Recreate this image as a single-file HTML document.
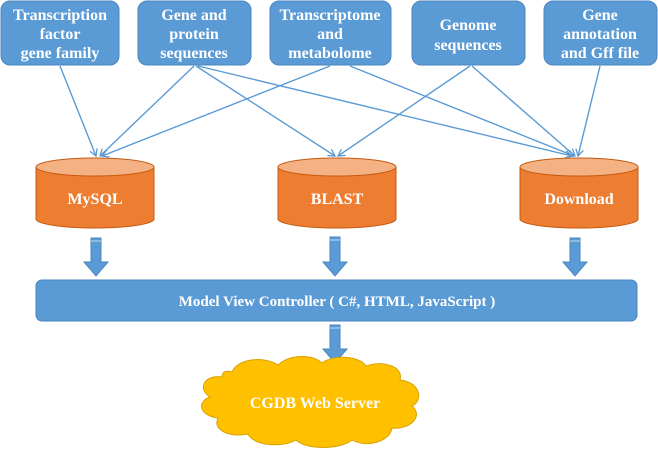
<!DOCTYPE html>
<html><head><meta charset="utf-8"><style>
html,body{margin:0;padding:0;background:#fff}
svg{display:block}
</style></head><body>
<svg width="658" height="449" viewBox="0 0 658 449" xmlns="http://www.w3.org/2000/svg">
<defs>
<marker id="a" markerWidth="8" markerHeight="8" refX="7" refY="4" orient="auto" markerUnits="userSpaceOnUse">
<path d="M0,0 L7,4 L0,8" fill="none" stroke="#5b9bd5" stroke-width="1.3"/></marker>
</defs>
<g fill="#5b9bd5" stroke="#4a86c0" stroke-width="1">
<rect x="1" y="1" width="118" height="64" rx="9"/>
<rect x="138" y="1" width="113" height="64" rx="9"/>
<rect x="270" y="1" width="121" height="64" rx="9"/>
<rect x="412" y="1" width="113" height="64" rx="9"/>
<rect x="544" y="1" width="113" height="64" rx="9"/>
</g>
<g font-family="'Liberation Serif', 'DejaVu Serif', serif" font-weight="bold" fill="#fff">
<g font-size="16" text-anchor="middle">
<text x="60" y="20">Transcription</text><text x="60" y="39">factor</text><text x="60" y="58">gene family</text>
<text x="194" y="20">Gene and</text><text x="194" y="39">protein</text><text x="194" y="58">sequences</text>
<text x="330" y="20">Transcriptome</text><text x="330" y="39">and</text><text x="330" y="58">metabolome</text>
<text x="468" y="30">Genome</text><text x="468" y="50">sequences</text>
<text x="600" y="20">Gene</text><text x="600" y="39">annotation</text><text x="600" y="58">and Gff file</text>
</g>
</g>
<g stroke="#5b9bd5" stroke-width="1.4" marker-end="url(#a)">
<line x1="60" y1="66" x2="96" y2="156"/>
<line x1="194" y1="66" x2="100" y2="156"/>
<line x1="196" y1="66" x2="335" y2="156"/>
<line x1="198" y1="66" x2="572" y2="156"/>
<line x1="330" y1="66" x2="102" y2="156"/>
<line x1="350" y1="66" x2="574" y2="156"/>
<line x1="470" y1="66" x2="338" y2="156"/>
<line x1="472" y1="66" x2="575" y2="156"/>
<line x1="600" y1="66" x2="578" y2="156"/>
</g>
<g stroke="#c55a11" stroke-width="1">
<path d="M36,167 V219 A59,9 0 0 0 154,219 V167 Z" fill="#ed7d31"/>
<ellipse cx="95" cy="167" rx="59" ry="9" fill="#f4b183"/>
<path d="M278,167 V219 A59,9 0 0 0 396,219 V167 Z" fill="#ed7d31"/>
<ellipse cx="337" cy="167" rx="59" ry="9" fill="#f4b183"/>
<path d="M520,167 V219 A59,9 0 0 0 638,219 V167 Z" fill="#ed7d31"/>
<ellipse cx="579" cy="167" rx="59" ry="9" fill="#f4b183"/>
</g>
<g fill="#5b9bd5" stroke="#4a86c0" stroke-width="1">
<path d="M91,238 h10 v24 h7 l-12,14 l-12,-14 h7 z"/>
<path d="M330,237 h10 v25 h7 l-12,14 l-12,-14 h7 z"/>
<path d="M570,238 h10 v24 h7 l-12,14 l-12,-14 h7 z"/>
<path d="M330,325 h10 v24 h7 l-12,14 l-12,-14 h7 z"/>
<rect x="36" y="280" width="601" height="41" rx="6"/>
</g>
<g stroke="#bcd5ee" stroke-width="1"><line x1="91" y1="241" x2="101" y2="241"/><line x1="330" y1="240" x2="340" y2="240"/><line x1="570" y1="241" x2="580" y2="241"/><line x1="330" y1="328" x2="340" y2="328"/></g>
<path d="M232,372 C238,358 265,356 278,365 C290,354 312,354 322,363 C334,354 360,356 366,366 C382,360 404,366 400,380 C420,382 424,400 412,406 C424,416 410,430 392,428 C390,442 366,448 352,440 C340,450 306,450 296,440 C282,448 254,446 248,434 C230,438 212,430 218,418 C200,416 196,402 210,397 C196,388 206,374 222,377 C222,372 226,370 232,372 Z" fill="#ffc000" stroke="#d9a300" stroke-width="1"/>
<g font-family="'Liberation Serif', 'DejaVu Serif', serif" font-weight="bold" fill="#fff" text-anchor="middle">
<text x="95" y="204" font-size="16">MySQL</text><text x="337" y="204" font-size="16">BLAST</text><text x="579" y="204" font-size="16">Download</text>
<text x="337" y="306" font-size="15">Model View Controller ( C#, HTML, JavaScript )</text>
<text x="315" y="408" font-size="16">CGDB Web Server</text>
</g>
</svg>
</body></html>
